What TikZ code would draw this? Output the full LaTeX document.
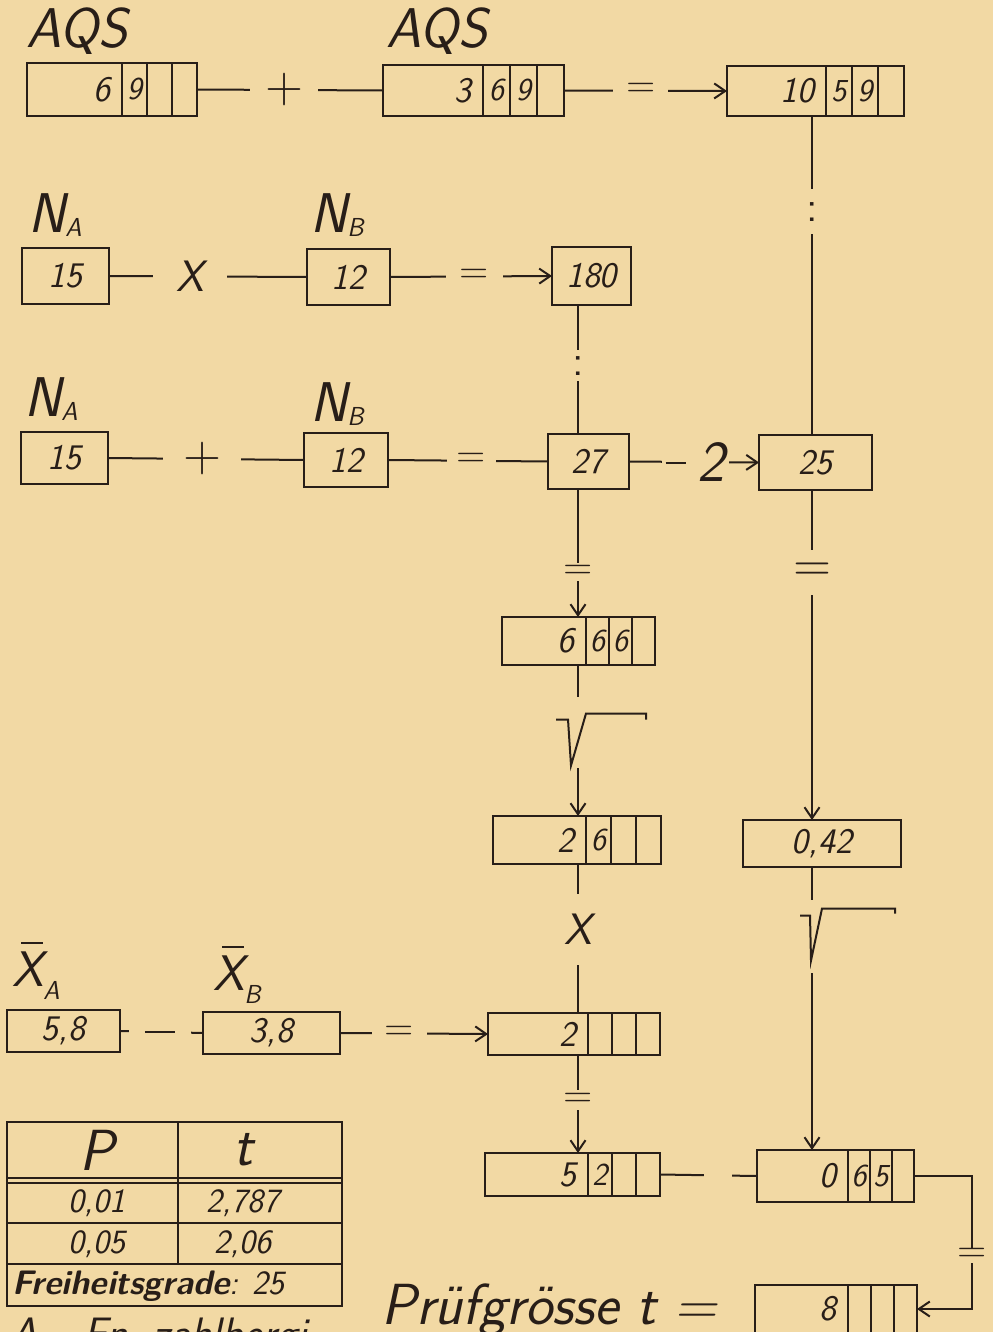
\documentclass[tikz,border=0pt]{standalone}
\usepackage{fontspec}
\usepackage{tikz}
\usetikzlibrary{arrows.meta}
\definecolor{paper}{RGB}{242,217,164}
\definecolor{ink}{RGB}{40,30,24}
\newcommand{\letsize}[1]{\fontsize{#1}{#1}\selectfont}
\newcommand{\subl}[2][-4pt]{\raisebox{#1}{\letsize{26pt}#2}}
\newcommand{\xbar}{\makebox[0pt][l]{\hspace{9pt}\rule[42pt]{22pt}{2pt}}X}
% register box: name, left, top, main width, height, cell width, main digit, cell 1, cell 2
\newcommand{\regbox}[9]{%
  \node[regmain, minimum height=#5pt] (#1) at (#2,#3) {\hbox to #4pt{\hfil#7\hspace{12pt}}};
  \node[regcell, minimum width=#6pt, minimum height=#5pt] (#1c1) at (#1.north east) {#8};
  \node[regcell, minimum width=#6pt, minimum height=#5pt] (#1c2) at (#1c1.north east) {#9};
  \node[regcell, minimum width=#6pt, minimum height=#5pt] (#1c3) at (#1c2.north east) {};
}
\tikzset{
  wire/.style={draw=ink, line width=2pt},
  tabline/.style={draw=ink, line width=2.2pt},
  regmain/.style={draw=ink, line width=2.4pt, anchor=north west, inner sep=0pt, outer sep=0pt,
    font=\sffamily\slshape\letsize{36pt}},
  regcell/.style={draw=ink, line width=2.4pt, anchor=north west, inner sep=0pt, outer sep=0pt,
    font=\sffamily\slshape\letsize{32pt}},
  numbox/.style={draw=ink, line width=2.4pt, anchor=north west, inner sep=0pt, outer sep=0pt,
    font=\sffamily\slshape\letsize{36pt}},
  lbl/.style={anchor=base west, inner sep=0pt, font=\sffamily\slshape\letsize{56pt}},
  nlbl/.style={lbl, font=\sffamily\slshape\letsize{56pt}},
  opsign/.style={fill=paper, inner xsep=15pt, inner ysep=2pt, font=\sffamily\letsize{52pt}},
  opeq/.style={opsign, inner xsep=13pt, font=\sffamily\letsize{40pt}},
  vsign/.style={fill=paper, inner xsep=3pt, inner ysep=2pt, font=\sffamily\letsize{40pt}},
  gapv/.style={fill=paper, inner sep=0pt, minimum width=6pt},
  tabhead/.style={inner sep=0pt, font=\sffamily\slshape\letsize{58pt}},
  tabval/.style={inner sep=0pt, font=\sffamily\slshape\letsize{34pt}}
}
\begin{document}
\begin{tikzpicture}[x=1pt, y=-1pt, >={Straight Barb[length=11pt,width=15pt]},
  every node/.style={text=ink}]
  \useasboundingbox (0,0) rectangle (993,1332);
  \fill[paper] (0,0) rectangle (993,1332);
  \clip (0,0) rectangle (993,1332);

  % columns of the vertical connectors
  \coordinate (colL) at (578,0);
  \coordinate (colR) at (812,0);
  \coordinate (colE) at (972,0);

  % sums of squares
  \node[lbl] (aqsla) at (26,48) {AQS};
  \node[lbl] (aqslb) at (386,48) {AQS};
  \regbox{aqsa}{27}{63}{95}{53}{25}{6}{9}{}
  \regbox{aqsb}{383}{65}{100}{51}{27}{3}{6}{9}
  \regbox{aqss}{727}{66}{99}{50}{26}{10}{5}{9}
  \draw[wire] (aqsac3.east) -- node[opsign, pos=0.47] {+} (aqsb.west);
  \draw[wire, ->] (aqsbc3.east) -- node[opeq, pos=0.47] {=} (aqss.west);

  % product of the sample sizes
  \node[nlbl] (nla1) at (28,233) {N\subl{A}};
  \node[nlbl] (nlb1) at (310,233) {N\subl{B}};
  \node[numbox, minimum width=87pt, minimum height=56pt] (na1) at (22,248) {15};
  \node[numbox, minimum width=83pt, minimum height=56pt] (nb1) at (307,249) {12};
  \node[numbox, minimum width=79pt, minimum height=58pt] (prod) at (552,247) {180};
  \draw[wire] (na1.east) -- node[opsign, pos=0.41, inner xsep=23pt, font=\sffamily\slshape\letsize{44pt}] {X} (nb1.west);
  \draw[wire, ->] (nb1.east) -- node[opeq, pos=0.52, inner xsep=14pt] {=} (prod.west);

  % sum of the sample sizes
  \node[nlbl] (nla2) at (24,416) {N\subl{A}};
  \node[nlbl] (nlb2) at (310,421) {N\subl{B}};
  \node[numbox, minimum width=87pt, minimum height=52pt] (na2) at (21,432) {15};
  \node[numbox, minimum width=84pt, minimum height=54pt] (nb2) at (304,433) {12};
  \node[numbox, minimum width=81pt, minimum height=55pt] (sumn) at (548,434) {27};
  \node[numbox, minimum width=113pt, minimum height=55pt] (df) at (759,435) {25};
  \draw[wire] (na2.east) -- node[opsign, pos=0.48, inner xsep=20pt] {+} (nb2.west);
  \draw[wire] (nb2.east) -- node[opeq, pos=0.52, inner xsep=10pt] {=} (sumn.west);
  \draw[wire, ->] (sumn.east) -- node[opsign, pos=0.51, inner xsep=4pt, font=\sffamily\slshape\letsize{58pt}] {\rule[18pt]{20pt}{2pt}\hspace{12pt}2} (df.west);

  % left column
  \regbox{quot}{502}{617}{84}{48}{23}{6}{6}{6}
  \regbox{root}{493}{816}{93}{48}{25}{2}{6}{}
  \regbox{diff}{488}{1013}{100}{42}{24}{2}{}{}
  \regbox{prodr}{485}{1153}{103}{43}{24}{5}{2}{}
  \draw[wire] (prod.south -| colL) -- node[vsign, pos=0.47, inner ysep=6pt, font=\sffamily\letsize{44pt}] {:} (sumn.north -| colL);
  \draw[wire, ->] (sumn.south -| colL) -- node[vsign, pos=0.65] {=} (quot.north -| colL);
  \draw[wire, ->] (quot.south -| colL) -- node[gapv, pos=0.447, minimum height=71pt] (rad1) {} (root.north -| colL);
  \draw[wire] ([shift={(-22,-13)}]rad1.center) -- ++(12,0) -- ++(3,46) -- ++(15,-52) -- ++(60,0) -- ++(0,6);
  \draw[wire] (root.south -| colL) -- node[vsign, pos=0.44, inner ysep=20pt, font=\sffamily\slshape\letsize{44pt}] {X} (diff.north -| colL);
  \draw[wire, ->] (diff.south -| colL) -- node[vsign, pos=0.46, inner ysep=3pt] {=} (prodr.north -| colL);

  % right column
  \node[numbox, minimum width=158pt, minimum height=47pt] (recip) at (743,820) {0,42};
  \regbox{sroot}{757}{1150}{91}{52}{22}{0}{6}{5}
  \draw[wire] (aqss.south -| colR) -- node[vsign, pos=0.30, inner ysep=13pt, font=\sffamily\letsize{44pt}] {:} (df.north -| colR);
  \draw[wire, ->] (df.south -| colR) -- node[vsign, pos=0.25, inner ysep=13pt, font=\sffamily\letsize{52pt}] {=} (recip.north -| colR);
  \draw[wire, ->] (recip.south -| colR) -- node[gapv, pos=0.2456, minimum height=73pt] (rad2) {} (sroot.north -| colR);
  \draw[wire] ([shift={(-12,-21)}]rad2.center) -- ++(10,0) -- ++(1,45) -- ++(11,-52) -- ++(73,0) -- ++(0,5);

  % means
  \node[lbl, font=\sffamily\slshape\letsize{50pt}] (xla) at (12,986) {\xbar\subl[-13pt]{A}};
  \node[lbl, font=\sffamily\slshape\letsize{50pt}] (xlb) at (213,990) {\xbar\subl[-13pt]{B}};
  \node[numbox, minimum width=113pt, minimum height=42pt] (xa) at (7,1010) {5,8};
  \node[numbox, minimum width=137pt, minimum height=42pt] (xb) at (203,1012) {3,8};
  \draw[wire] (xa.east) -- node[opsign, pos=0.48, inner xsep=16pt, inner ysep=4pt] {\rule{30pt}{2pt}} (xb.west);
  \draw[wire, ->] (xb.east) -- node[opeq, pos=0.4] {=} (diff.west);

  % test value
  \regbox{tval}{755}{1285}{93}{48}{23}{8}{}{}
  \draw[wire] (prodrc3.east) -- node[fill=paper, pos=0.6, inner sep=0pt, minimum width=28pt, minimum height=6pt] {} (sroot.west);
  \draw[wire, ->] (srootc3.east) -- (srootc3.east -| colE) -- node[vsign, pos=0.6, inner ysep=0pt] {=} (tvalc3.east -| colE) -- (tvalc3.east);
  \node[lbl, font=\sffamily\slshape\letsize{58pt}] (pruef) at (381,1324) {Prüfgrösse t =};

  % t table
  \draw[tabline] (7,1122) rectangle (342,1306);
  \draw[tabline] (178,1122) -- (178,1264);
  \foreach \y in {1178,1183,1223,1264} \draw[tabline] (7,\y) -- (342,\y);
  \node[tabhead] (tp) at (97,1150) {P};
  \node[tabhead] (tt) at (243,1150) {t};
  \node[tabval] (p1) at (97,1203) {0,01};
  \node[tabval] (t1) at (243,1203) {2,787};
  \node[tabval] (p2) at (97,1244) {0,05};
  \node[tabval] (t2) at (243,1244) {2,06};
  \node[tabval, anchor=west] (dof) at (12,1286) {{\bfseries Freiheitsgrade}: 25};
  \node[lbl, font=\sffamily\slshape\letsize{44pt}] (abbr) at (10,1348) {A= Fn.\ zahlbergi};
\end{tikzpicture}
\end{document}
